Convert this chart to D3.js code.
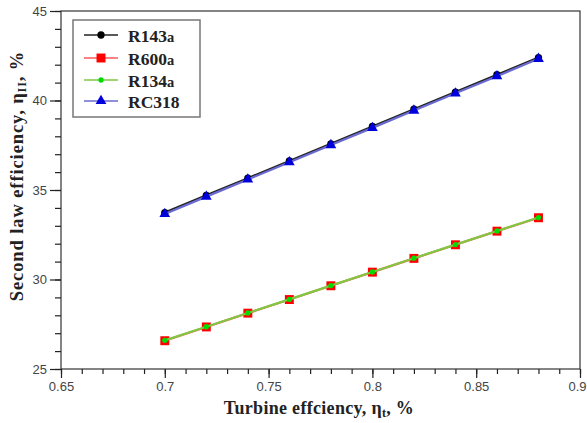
<!DOCTYPE html>
<html>
<head>
<meta charset="utf-8">
<script src="https://cdn.jsdelivr.net/npm/d3@7"></script>
<style>
  html, body { margin: 0; padding: 0; background: #fff; }
  svg { display: block; }
</style>
</head>
<body>
<svg id="chart" width="587" height="423"></svg>
<script>
// Turbine efficiency (x) against second law efficiency (%) for four working fluids
const turbineEff = [0.70, 0.72, 0.74, 0.76, 0.78, 0.80, 0.82, 0.84, 0.86, 0.88];
const r143a = [33.74, 34.70, 35.66, 36.62, 37.58, 38.55, 39.51, 40.47, 41.44, 42.40];
const r600a = [26.58, 27.35, 28.12, 28.88, 29.65, 30.41, 31.18, 31.94, 32.70, 33.45];
const r134a = [26.60, 27.36, 28.13, 28.89, 29.66, 30.42, 31.19, 31.95, 32.71, 33.46];
const rc318 = [33.66, 34.63, 35.59, 36.55, 37.51, 38.47, 39.44, 40.40, 41.36, 42.33];
const seriesNames = ["R143a", "R600a", "R134a", "RC318"];
const xTicks = [0.65, 0.7, 0.75, 0.8, 0.85, 0.9];
const yTicks = [25, 30, 35, 40, 45];

(function draw() {
  const series = [
    { name: seriesNames[0], values: r143a, color: "#000000", line: "#222222", marker: "circle" },
    { name: seriesNames[1], values: r600a, color: "#ff0000", line: "#ff5a5a", marker: "square" },
    { name: seriesNames[2], values: r134a, color: "#00dd00", line: "#7fc840", marker: "diamond" },
    { name: seriesNames[3], values: rc318, color: "#0000dd", line: "#6a6ad0", marker: "triangle" }
  ];

  const svg = d3.select("#chart");
  const pLeft = 61, pRight = 580, pTop = 11, pBottom = 369;

  const x = d3.scaleLinear().domain([0.65, 0.9]).range([pLeft, pRight]);
  const y = d3.scaleLinear().domain([25, 45]).range([pBottom, pTop]);

  // frame
  svg.append("rect")
    .attr("x", pLeft).attr("y", pTop)
    .attr("width", pRight - pLeft).attr("height", pBottom - pTop)
    .attr("fill", "none").attr("stroke", "#333").attr("stroke-width", 1.2);

  // x axis: minor and major ticks
  const xMinor = d3.range(0, 26).map(i => 0.65 + i * 0.01);
  svg.append("g").attr("transform", `translate(0,${pBottom})`)
    .call(d3.axisBottom(x).tickValues(xMinor).tickSize(5).tickFormat(""))
    .call(g => g.select(".domain").remove())
    .call(g => g.selectAll("line").attr("stroke", "#222").attr("stroke-width", 1.2));
  svg.append("g").attr("transform", `translate(0,${pBottom})`)
    .call(d3.axisBottom(x).tickValues(xTicks).tickSize(9).tickPadding(4).tickFormat(d3.format("")))
    .call(g => g.select(".domain").remove())
    .call(g => g.selectAll("line").attr("stroke", "#222").attr("stroke-width", 1.2))
    .call(g => g.selectAll("text").attr("font-family", "Liberation Sans, Arial, sans-serif")
      .attr("font-size", 13).attr("fill", "#444"))
    // last label sits at the right edge of the page; keep it inside
    .call(g => g.selectAll(".tick").filter(d => d === 0.9).select("text")
      .attr("text-anchor", "end").attr("x", 6));

  // y axis: minor and major ticks
  const yMinor = d3.range(25, 46, 1);
  svg.append("g").attr("transform", `translate(${pLeft},0)`)
    .call(d3.axisLeft(y).tickValues(yMinor).tickSize(6).tickFormat(""))
    .call(g => g.select(".domain").remove())
    .call(g => g.selectAll("line").attr("stroke", "#222").attr("stroke-width", 1.2));
  svg.append("g").attr("transform", `translate(${pLeft},0)`)
    .call(d3.axisLeft(y).tickValues(yTicks).tickSize(11).tickPadding(3))
    .call(g => g.select(".domain").remove())
    .call(g => g.selectAll("line").attr("stroke", "#222").attr("stroke-width", 1.2))
    .call(g => g.selectAll("text").attr("font-family", "Liberation Sans, Arial, sans-serif")
      .attr("font-size", 13).attr("fill", "#444"));

  // markers
  const symbolType = {
    circle: d3.symbolCircle, square: d3.symbolSquare,
    diamond: d3.symbolCircle, triangle: d3.symbolTriangle
  };
  const symbolSize = { circle: 42, square: 80, diamond: 22, triangle: 50 };

  const line = d3.line().x((d, i) => x(turbineEff[i])).y(d => y(d));

  series.forEach(s => {
    const g = svg.append("g");
    g.append("path").datum(s.values)
      .attr("d", line).attr("fill", "none")
      .attr("stroke", s.line).attr("stroke-width", 2.2);
    g.selectAll("path.pt").data(s.values).join("path")
      .attr("class", "pt")
      .attr("transform", (d, i) => `translate(${x(turbineEff[i])},${y(d)})`)
      .attr("d", d3.symbol().type(symbolType[s.marker]).size(symbolSize[s.marker]))
      .attr("fill", s.color);
  });

  // legend
  const lg = svg.append("g");
  lg.append("rect").attr("x", 73).attr("y", 20).attr("width", 127).attr("height", 97)
    .attr("fill", "#fff").attr("stroke", "#777").attr("stroke-width", 1.5);
  const rowY = [35, 58, 80, 101];
  series.forEach((s, i) => {
    const ry = rowY[i];
    lg.append("line").attr("x1", 84).attr("x2", 118).attr("y1", ry).attr("y2", ry)
      .attr("stroke", s.line).attr("stroke-width", 1.6);
    lg.append("path").attr("transform", `translate(101,${ry})`)
      .attr("d", d3.symbol().type(symbolType[s.marker]).size(symbolSize[s.marker]))
      .attr("fill", s.color);
    const m = s.name.match(/^(.*?)(a?)$/);
    const t = lg.append("text").attr("x", 128).attr("y", ry + 6.5)
      .attr("font-family", "Liberation Serif, Times New Roman, serif")
      .attr("font-weight", "bold").attr("font-size", 17.5).attr("fill", "#222");
    t.append("tspan").text(m[1]);
    if (m[2]) t.append("tspan").attr("font-size", 14.5).text(m[2]);
  });

  // axis titles
  const xt = svg.append("text").attr("x", 319).attr("y", 414).attr("text-anchor", "middle")
    .attr("font-family", "Liberation Serif, Times New Roman, serif")
    .attr("font-weight", "bold").attr("font-size", 18).attr("fill", "#222")
    .attr("letter-spacing", 0.3);
  xt.append("tspan").text("Turbine effciency, η");
  xt.append("tspan").attr("font-size", 12).attr("dy", 3).text("t");
  xt.append("tspan").attr("dy", -3).text(", %");

  const yt = svg.append("text")
    .attr("transform", `translate(23,176) rotate(-90)`)
    .attr("text-anchor", "middle")
    .attr("font-family", "Liberation Serif, Times New Roman, serif")
    .attr("font-weight", "bold").attr("font-size", 18.5).attr("fill", "#222")
    .attr("letter-spacing", 0.9);
  yt.append("tspan").text("Second law efficiency, η");
  yt.append("tspan").attr("font-size", 12).attr("dy", 3).text("II");
  yt.append("tspan").attr("dy", -3).text(", %");
})();
</script>
</body>
</html>
